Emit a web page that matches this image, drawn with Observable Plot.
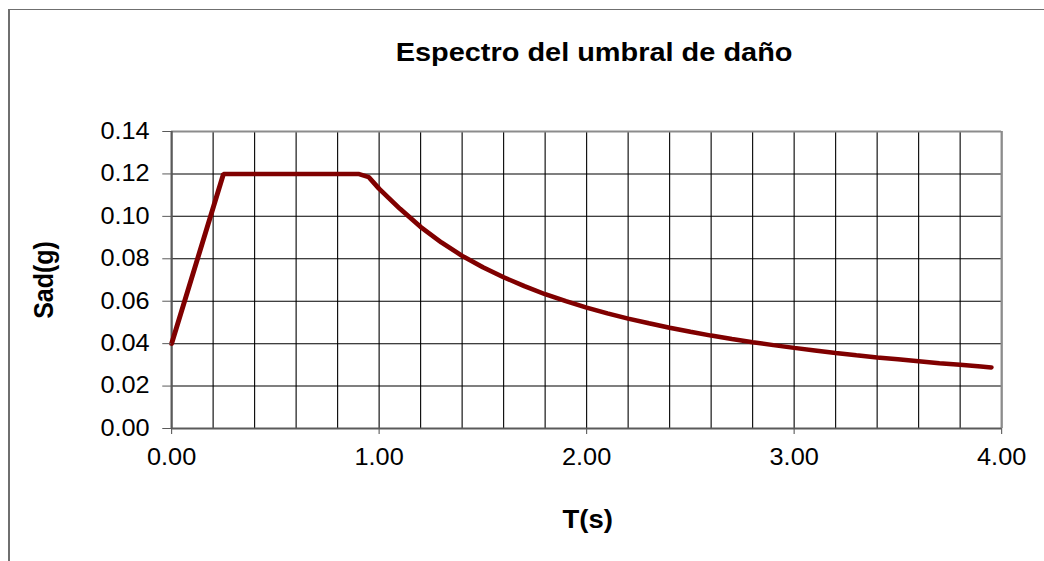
<!DOCTYPE html>
<html>
<head>
<meta charset="utf-8">
<script src="https://cdn.jsdelivr.net/npm/d3@7"></script>
<script src="https://cdn.jsdelivr.net/npm/@observablehq/plot@0.6"></script>
<style>
  html, body { margin: 0; padding: 0; background: #fff; overflow: hidden; }
  #wrap { position: relative; width: 1044px; height: 561px; }
  #chart svg { display: block; transform-origin: 0 0; }
  #border { position: absolute; left: 8px; top: 9px; width: 1100px; height: 600px;
            border-left: 2px solid #6f6f6f; border-top: 1px solid #6f6f6f; pointer-events: none; }
</style>
</head>
<body>
<div id="wrap"><div id="chart"></div><div id="border"></div></div>
<script>
// Data
const T   = [0, 0.25, 0.9, 0.95, 1.0, 1.1, 1.2, 1.3, 1.4, 1.5, 1.6, 1.7, 1.8, 1.9, 2.0, 2.1, 2.2, 2.3, 2.4, 2.5, 2.6, 2.7, 2.8, 2.9, 3.0, 3.1, 3.2, 3.3, 3.4, 3.5, 3.6, 3.7, 3.8, 3.9, 3.95];
const Sad = [0.040, 0.120, 0.120, 0.1185, 0.113, 0.1036, 0.095, 0.0877, 0.0814, 0.076, 0.0713, 0.0671, 0.0633, 0.060, 0.057, 0.0543, 0.0518, 0.0496, 0.0475, 0.0456, 0.0438, 0.0422, 0.0407, 0.0393, 0.038, 0.0368, 0.0356, 0.0345, 0.0335, 0.0326, 0.0317, 0.0308, 0.030, 0.0292, 0.0288];
const yTicks = [0, 0.02, 0.04, 0.06, 0.08, 0.10, 0.12, 0.14];
const xTicks = [0, 1, 2, 3, 4];
const xGrid  = [0, 0.2, 0.4, 0.6, 0.8, 1.0, 1.2, 1.4, 1.6, 1.8, 2.0, 2.2, 2.4, 2.6, 2.8, 3.0, 3.2, 3.4, 3.6, 3.8, 4.0];
const titleText = "Espectro del umbral de daño";
const xLabel = "T(s)";
const yLabel = "Sad(g)";

const data = T.map((t, i) => ({T: t, Sad: Sad[i]}));

const W = 949, H = 561;

const chart = Plot.plot({
  width: W, height: H,
  marginLeft: 155.5, marginRight: 39, marginTop: 131, marginBottom: 133,
  x: {domain: [0, 4]},
  y: {domain: [0, 0.14]},
  style: {fontFamily: "'Liberation Sans', Arial, sans-serif", fontSize: "23px", color: "#000", background: "transparent", overflow: "visible"},
  marks: [
    Plot.ruleX(xGrid, {stroke: "#000", strokeWidth: 1, strokeOpacity: 1}),
    Plot.ruleY(yTicks, {stroke: "#000", strokeWidth: 1, strokeOpacity: 1}),
    Plot.ruleX([4], {stroke: "#8c8c8c", strokeWidth: 2}),
    Plot.ruleY([0.14], {stroke: "#8c8c8c", strokeWidth: 2}),
    Plot.ruleX([0], {stroke: "#5a5a5a", strokeWidth: 2}),
    Plot.ruleY([0], {stroke: "#5a5a5a", strokeWidth: 2}),
    Plot.line(data, {x: "T", y: "Sad", stroke: "#800000", strokeWidth: 4.5, strokeLinejoin: "miter"}),
    Plot.axisY({ticks: yTicks, tickFormat: d => d.toFixed(2), tickSize: 8, tickPadding: 12, stroke: "#5a5a5a", label: null, fontSize: 23}),
    Plot.axisX({ticks: xTicks, tickFormat: d => d.toFixed(2), tickSize: 6, tickPadding: 14, stroke: "#5a5a5a", label: null, fontSize: 23})
  ]
});

const svg = d3.select(chart);
svg.append("text")
  .attr("x", 540).attr("y", 61)
  .attr("text-anchor", "middle").attr("font-weight", "bold").attr("font-size", 26.3)
  .attr("fill", "#000")
  .text(titleText);
svg.append("text")
  .attr("x", 534.3).attr("y", 528)
  .attr("text-anchor", "middle").attr("font-weight", "bold").attr("font-size", 25)
  .attr("fill", "#000")
  .text(xLabel);
svg.append("text")
  .attr("transform", "translate(48.2,280) rotate(-90)")
  .attr("text-anchor", "middle").attr("font-weight", "bold").attr("font-size", 25)
  .attr("fill", "#000")
  .text(yLabel);

chart.style.transform = `scaleX(${1044 / W})`;
chart.style.maxWidth = "none";
document.getElementById("chart").appendChild(chart);
</script>
</body>
</html>
